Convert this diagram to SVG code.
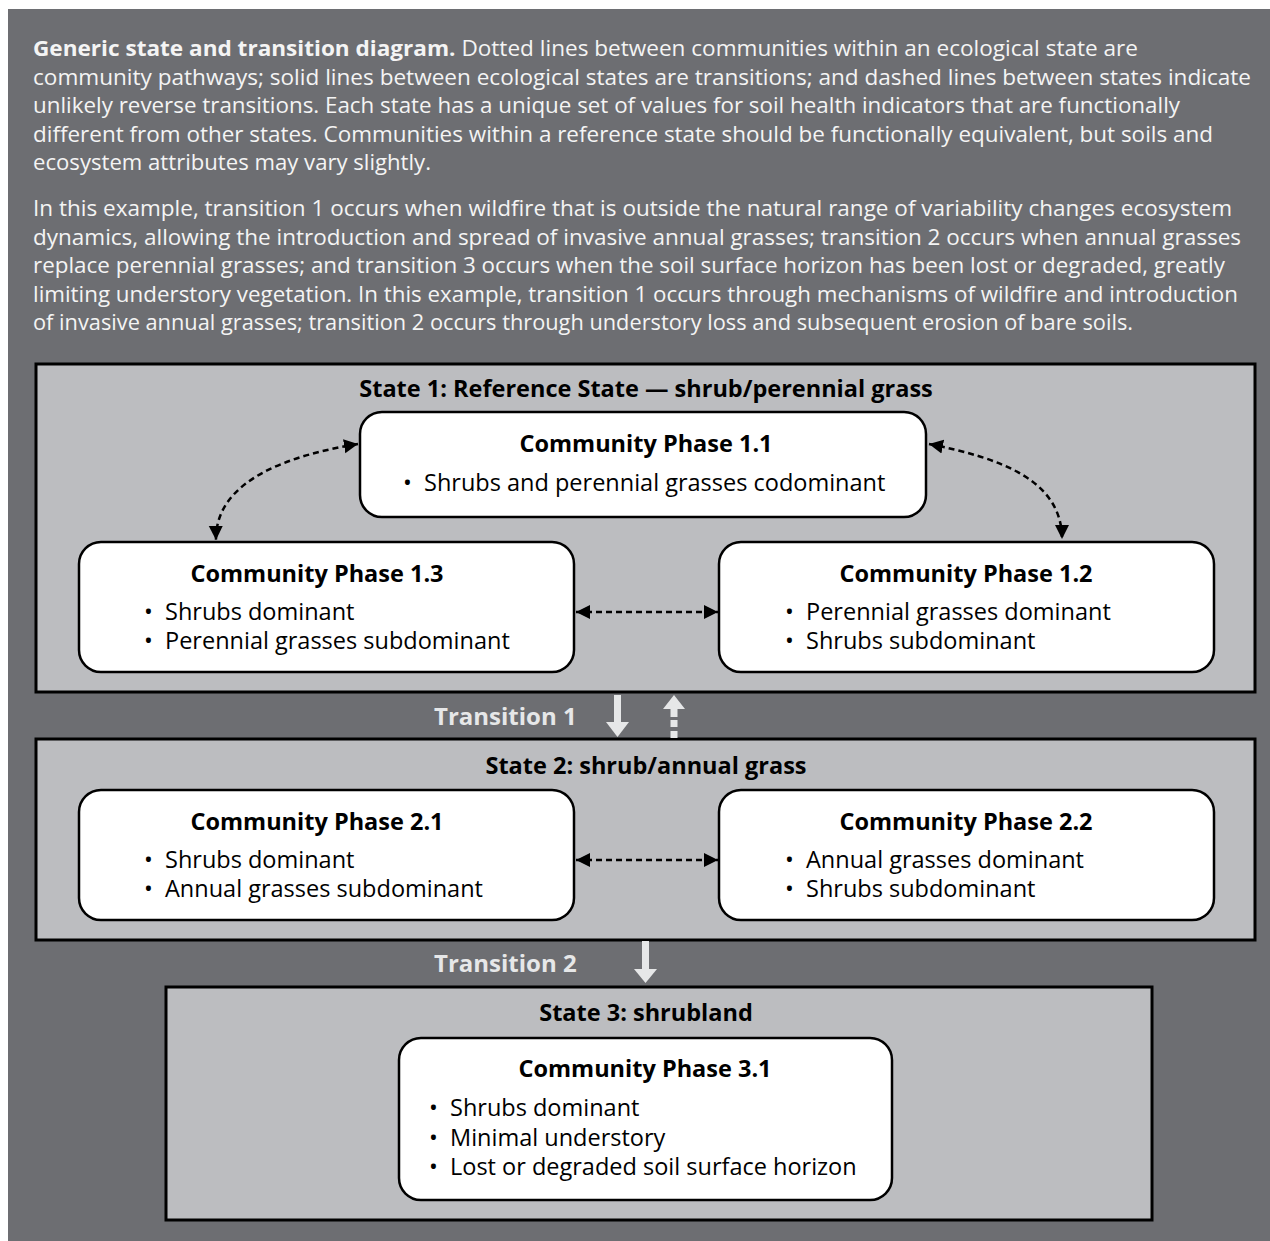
<svg xmlns="http://www.w3.org/2000/svg" width="1270" height="1241" viewBox="0 0 1270 1241">
<style>
.body{font-family:"Open Sans","Liberation Sans",sans-serif;font-size:22px;fill:#f4f4f4}
.bb{font-weight:bold}
.state{fill:#bcbdc0;stroke:#000;stroke-width:3}
.comm{fill:#fff;stroke:#000;stroke-width:2.5}
.st{font-family:"Open Sans","Liberation Sans",sans-serif;font-size:23.5px;font-weight:bold;fill:#000;text-anchor:middle}
.ct{font-family:"Open Sans","Liberation Sans",sans-serif;font-size:23.5px;font-weight:bold;fill:#000;text-anchor:middle}
.ci{font-family:"Open Sans","Liberation Sans",sans-serif;font-size:23.5px;fill:#000}
.tr{font-family:"Open Sans","Liberation Sans",sans-serif;font-size:24px;font-weight:bold;fill:#e6e7e8}
.dot{fill:none;stroke:#000;stroke-width:2.5;stroke-dasharray:6 4}
.ta{fill:#e6e7e8}
</style>
<defs>
<marker id="ah" viewBox="0 0 10 10" refX="10" refY="5" markerUnits="userSpaceOnUse" markerWidth="14" markerHeight="15" orient="auto-start-reverse">
<path d="M0,0 L10,5 L0,10 z" fill="#000"/>
</marker>
</defs>
<rect x="8" y="9" width="1262" height="1232" fill="#6d6e72"/>
<g id="caption">
<text class="body" x="33" y="56" textLength="1105" lengthAdjust="spacingAndGlyphs"><tspan class="bb">Generic state and transition diagram.</tspan> Dotted lines between communities within an ecological state are</text>
<text class="body" x="33" y="84.5" textLength="1218" lengthAdjust="spacingAndGlyphs">community pathways; solid lines between ecological states are transitions; and dashed lines between states indicate</text>
<text class="body" x="33" y="113" textLength="1147" lengthAdjust="spacingAndGlyphs">unlikely reverse transitions. Each state has a unique set of values for soil health indicators that are functionally</text>
<text class="body" x="33" y="141.5" textLength="1180" lengthAdjust="spacingAndGlyphs">different from other states. Communities within a reference state should be functionally equivalent, but soils and</text>
<text class="body" x="33" y="170" textLength="398" lengthAdjust="spacingAndGlyphs">ecosystem attributes may vary slightly.</text>
<text class="body" x="33" y="216" textLength="1199" lengthAdjust="spacingAndGlyphs">In this example, transition 1 occurs when wildfire that is outside the natural range of variability changes ecosystem</text>
<text class="body" x="33" y="244.5" textLength="1208" lengthAdjust="spacingAndGlyphs">dynamics, allowing the introduction and spread of invasive annual grasses; transition 2 occurs when annual grasses</text>
<text class="body" x="33" y="273" textLength="1192" lengthAdjust="spacingAndGlyphs">replace perennial grasses; and transition 3 occurs when the soil surface horizon has been lost or degraded, greatly</text>
<text class="body" x="33" y="301.5" textLength="1205" lengthAdjust="spacingAndGlyphs">limiting understory vegetation. In this example, transition 1 occurs through mechanisms of wildfire and introduction</text>
<text class="body" x="33" y="330" textLength="1100" lengthAdjust="spacingAndGlyphs">of invasive annual grasses; transition 2 occurs through understory loss and subsequent erosion of bare soils.</text>
</g>
<g id="state1">
<rect class="state" x="36" y="364" width="1219" height="328"/>
<text class="st" x="646" y="397">State 1: Reference State — shrub/perennial grass</text>
</g>
<g id="state2">
<rect class="state" x="36" y="739" width="1219" height="201"/>
<text class="st" x="646" y="774">State 2: shrub/annual grass</text>
</g>
<g id="state3">
<rect class="state" x="166" y="987" width="986" height="233"/>
<text class="st" x="646" y="1021">State 3: shrubland</text>
</g>
<g id="cp11">
<rect class="comm" x="360" y="412" width="566" height="105" rx="22"/>
<text class="ct" x="646" y="452">Community Phase 1.1</text>
<text class="ci" x="403" y="491">•<tspan x="424">Shrubs and perennial grasses codominant</tspan></text>
</g>
<g id="cp13">
<rect class="comm" x="79" y="542" width="495" height="130" rx="22"/>
<text class="ct" x="317" y="582">Community Phase 1.3</text>
<text class="ci" x="144" y="620">•<tspan x="165">Shrubs dominant</tspan></text>
<text class="ci" x="144" y="649">•<tspan x="165">Perennial grasses subdominant</tspan></text>
</g>
<g id="cp12">
<rect class="comm" x="719" y="542" width="495" height="130" rx="22"/>
<text class="ct" x="966" y="582">Community Phase 1.2</text>
<text class="ci" x="785" y="620">•<tspan x="806">Perennial grasses dominant</tspan></text>
<text class="ci" x="785" y="649">•<tspan x="806">Shrubs subdominant</tspan></text>
</g>
<g id="cp21">
<rect class="comm" x="79" y="790" width="495" height="130" rx="22"/>
<text class="ct" x="317" y="830">Community Phase 2.1</text>
<text class="ci" x="144" y="868">•<tspan x="165">Shrubs dominant</tspan></text>
<text class="ci" x="144" y="897">•<tspan x="165">Annual grasses subdominant</tspan></text>
</g>
<g id="cp22">
<rect class="comm" x="719" y="790" width="495" height="130" rx="22"/>
<text class="ct" x="966" y="830">Community Phase 2.2</text>
<text class="ci" x="785" y="868">•<tspan x="806">Annual grasses dominant</tspan></text>
<text class="ci" x="785" y="897">•<tspan x="806">Shrubs subdominant</tspan></text>
</g>
<g id="cp31">
<rect class="comm" x="399" y="1038" width="493" height="162" rx="22"/>
<text class="ct" x="645" y="1077">Community Phase 3.1</text>
<text class="ci" x="429" y="1116">•<tspan x="450">Shrubs dominant</tspan></text>
<text class="ci" x="429" y="1146">•<tspan x="450">Minimal understory</tspan></text>
<text class="ci" x="429" y="1175">•<tspan x="450">Lost or degraded soil surface horizon</tspan></text>
</g>
<g id="connectors">
<path class="dot" d="M358,444 C290,455 215,480 216,540" marker-start="url(#ah)" marker-end="url(#ah)"/>
<path class="dot" d="M929,444 C1000,458 1062,480 1062,539" marker-start="url(#ah)" marker-end="url(#ah)"/>
<path class="dot" d="M576,612 L718,612" marker-start="url(#ah)" marker-end="url(#ah)"/>
<path class="dot" d="M576,860 L718,860" marker-start="url(#ah)" marker-end="url(#ah)"/>
<text class="tr" x="434" y="725">Transition 1</text>
<rect class="ta" x="614" y="695" width="7" height="28"/>
<polygon class="ta" points="606,722 629,722 617.5,737"/>
<polygon class="ta" points="663,709 685,709 674,695"/>
<rect class="ta" x="670.5" y="709" width="7" height="8"/>
<rect class="ta" x="670.5" y="720" width="7" height="7"/>
<rect class="ta" x="670.5" y="731" width="7" height="7"/>
<text class="tr" x="434" y="972">Transition 2</text>
<rect class="ta" x="642" y="941" width="7" height="29"/>
<polygon class="ta" points="634,969 657,969 645.5,983"/>
</g>
</svg>
